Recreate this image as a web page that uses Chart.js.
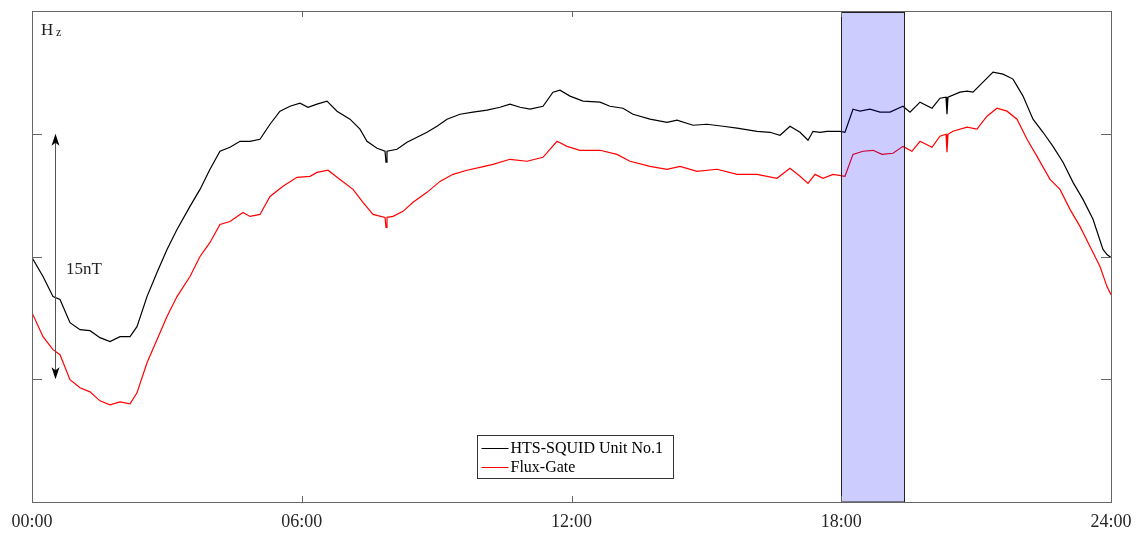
<!DOCTYPE html>
<html>
<head>
<meta charset="utf-8">
<script src="https://cdn.jsdelivr.net/npm/chart.js@4/dist/chart.umd.min.js"></script>
<style>
    html, body { margin: 0; padding: 0; background: #fff; }
    #wrap { width: 1138px; height: 536px; }
</style>
</head>
<body>
<div id="wrap"><canvas id="hzChart" width="1138" height="536"></canvas></div>
<script>
// hours of day / nT (relative)
const squidHours = [0.00, 0.245, 0.467, 0.623, 0.845, 1.068, 1.290, 1.512, 1.735, 1.957, 2.180, 2.335, 2.558, 2.780, 3.003, 3.225, 3.514, 3.737, 3.959, 4.181, 4.404, 4.627, 4.849, 5.071, 5.294, 5.516, 5.739, 5.961, 6.139, 6.339, 6.562, 6.784, 7.073, 7.295, 7.451, 7.674, 7.852, 7.874, 7.896, 8.119, 8.341, 8.564, 8.786, 9.008, 9.231, 9.520, 9.809, 10.121, 10.410, 10.632, 10.855, 11.077, 11.366, 11.588, 11.744, 11.967, 12.256, 12.634, 12.856, 13.145, 13.368, 13.746, 14.124, 14.347, 14.703, 15.014, 15.370, 15.682, 16.126, 16.415, 16.638, 16.860, 17.083, 17.261, 17.372, 17.527, 17.683, 17.972, 18.083, 18.261, 18.417, 18.639, 18.862, 19.084, 19.373, 19.529, 19.752, 20.019, 20.196, 20.330, 20.352, 20.374, 20.641, 20.797, 20.931, 21.153, 21.376, 21.598, 21.821, 22.043, 22.265, 22.488, 22.710, 22.933, 23.155, 23.377, 23.600, 23.822, 23.911, 24.00];
const squidNT = [14.94, 13.78, 12.55, 12.37, 10.96, 10.53, 10.47, 10.04, 9.80, 10.10, 10.10, 10.71, 12.55, 14.02, 15.43, 16.65, 18.06, 19.10, 20.33, 21.43, 21.67, 22.04, 22.04, 22.16, 23.08, 23.88, 24.18, 24.37, 24.12, 24.31, 24.49, 23.88, 23.39, 22.78, 22.04, 21.61, 21.43, 20.76, 21.43, 21.55, 21.98, 22.29, 22.59, 22.96, 23.39, 23.69, 23.82, 23.94, 24.12, 24.31, 24.12, 24.00, 24.18, 25.04, 25.16, 24.80, 24.49, 24.43, 24.18, 24.06, 23.69, 23.39, 23.20, 23.33, 23.02, 23.08, 22.96, 22.84, 22.65, 22.59, 22.41, 22.96, 22.59, 22.10, 22.65, 22.59, 22.65, 22.65, 22.59, 24.00, 23.88, 24.00, 23.82, 23.82, 24.18, 23.82, 24.43, 24.06, 24.67, 24.73, 23.69, 24.73, 25.04, 25.10, 25.04, 25.65, 26.27, 26.14, 25.84, 24.80, 23.39, 22.59, 21.73, 20.76, 19.53, 18.49, 17.27, 15.43, 15.12, 14.94];

const fluxHours = [0.00, 0.245, 0.467, 0.623, 0.845, 1.068, 1.290, 1.512, 1.735, 1.957, 2.180, 2.335, 2.558, 2.780, 3.003, 3.225, 3.514, 3.737, 3.959, 4.181, 4.404, 4.693, 4.849, 5.071, 5.294, 5.583, 5.894, 6.184, 6.339, 6.584, 6.851, 7.140, 7.362, 7.585, 7.852, 7.874, 7.896, 8.030, 8.252, 8.475, 8.786, 9.075, 9.364, 9.675, 9.964, 10.254, 10.632, 11.010, 11.366, 11.678, 11.900, 12.189, 12.634, 13.012, 13.301, 13.746, 14.124, 14.413, 14.791, 15.236, 15.682, 16.126, 16.571, 16.860, 17.083, 17.261, 17.416, 17.594, 17.816, 18.083, 18.261, 18.484, 18.706, 18.906, 19.151, 19.373, 19.573, 19.752, 20.019, 20.196, 20.330, 20.352, 20.374, 20.486, 20.797, 21.019, 21.242, 21.464, 21.687, 21.909, 22.132, 22.354, 22.643, 22.866, 23.088, 23.310, 23.533, 23.755, 23.911, 24.00];
const fluxNT = [11.57, 10.10, 9.31, 9.00, 7.47, 6.98, 6.73, 6.18, 5.94, 6.12, 6.00, 6.67, 8.51, 9.92, 11.33, 12.55, 13.78, 15.00, 15.86, 16.96, 17.14, 17.69, 17.45, 17.57, 18.67, 19.29, 19.84, 19.90, 20.14, 20.27, 19.71, 19.10, 18.31, 17.57, 17.39, 16.78, 17.39, 17.45, 17.76, 18.31, 18.92, 19.59, 20.02, 20.27, 20.45, 20.63, 20.94, 20.82, 21.06, 22.04, 21.73, 21.49, 21.49, 21.24, 20.82, 20.51, 20.33, 20.51, 20.20, 20.33, 20.02, 20.02, 19.78, 20.39, 19.90, 19.47, 20.02, 19.78, 20.02, 19.90, 21.24, 21.43, 21.49, 21.24, 21.31, 21.73, 21.43, 22.04, 21.67, 22.35, 22.47, 21.37, 22.47, 22.65, 22.90, 22.78, 23.57, 24.06, 23.88, 23.39, 22.16, 21.12, 19.71, 19.10, 17.88, 16.84, 15.61, 14.39, 13.16, 12.67];

const timeTicks = [0, 6, 12, 18, 24];
const levelTicks = [7.5, 15, 22.5];
const shadeSpan = [18.0, 19.4];
const arrowSpan = [7.5, 22.5];
const seriesNames = ['HTS-SQUID Unit No.1', 'Flux-Gate'];
const seriesColors = ['#000000', '#ff0000'];

const SERIF = '"Liberation Serif", "Times New Roman", serif';

const toPoints = (xs, ys) => xs.map((x, i) => ({ x, y: ys[i] }));
const hhmm = (h) => String(h).padStart(2, '0') + ':00';

const decor = {
    id: 'hzDecor',
    afterDatasetsDraw(chart) {
        const { ctx, chartArea: area, scales: { x, y } } = chart;
        ctx.save();

        // highlighted interval, drawn over the traces
        const sx0 = Math.round(x.getPixelForValue(shadeSpan[0])) + 0.5;
        const sx1 = Math.round(x.getPixelForValue(shadeSpan[1])) + 0.5;
        ctx.fillStyle = 'rgba(0, 0, 255, 0.2)';
        ctx.fillRect(sx0, area.top + 1, sx1 - sx0, area.bottom - area.top - 1);
        ctx.strokeStyle = '#222';
        ctx.lineWidth = 1;
        ctx.strokeRect(sx0, area.top + 1.5, sx1 - sx0, area.bottom - area.top - 1.5);

        // frame
        ctx.strokeStyle = '#666';
        ctx.strokeRect(area.left + 0.5, area.top + 0.5, area.right - area.left, area.bottom - area.top);

        // inward ticks
        ctx.beginPath();
        levelTicks.forEach((v) => {
            const py = Math.round(y.getPixelForValue(v)) + 0.5;
            ctx.moveTo(area.left, py); ctx.lineTo(area.left + 10, py);
            ctx.moveTo(area.right, py); ctx.lineTo(area.right - 10, py);
        });
        timeTicks.slice(1, -1).forEach((v) => {
            const px = Math.round(x.getPixelForValue(v)) + 0.5;
            ctx.moveTo(px, area.bottom); ctx.lineTo(px, area.bottom - 6);
            ctx.moveTo(px, area.top); ctx.lineTo(px, area.top + 6);
        });
        ctx.stroke();

        // 15nT scale arrow
        const ax = 55.5;
        const ay0 = y.getPixelForValue(arrowSpan[1]);
        const ay1 = y.getPixelForValue(arrowSpan[0]);
        ctx.strokeStyle = '#555';
        ctx.beginPath();
        ctx.moveTo(ax, ay0 + 6); ctx.lineTo(ax, ay1 - 6);
        ctx.stroke();
        ctx.fillStyle = '#000';
        ctx.beginPath();
        ctx.moveTo(ax, ay0); ctx.lineTo(ax - 4, ay0 + 12); ctx.lineTo(ax, ay0 + 9); ctx.lineTo(ax + 4, ay0 + 12); ctx.closePath();
        ctx.moveTo(ax, ay1); ctx.lineTo(ax - 4, ay1 - 12); ctx.lineTo(ax, ay1 - 9); ctx.lineTo(ax + 4, ay1 - 12); ctx.closePath();
        ctx.fill();

        ctx.fillStyle = '#222';
        ctx.textBaseline = 'alphabetic';
        ctx.textAlign = 'left';
        ctx.font = '17px ' + SERIF;
        ctx.fillText('15nT', 66, 274);
        ctx.fillText('H', 41, 35);
        ctx.font = '12px ' + SERIF;
        ctx.fillText('z', 56, 36);

        // legend
        const lx = 477.5, ly = 435.5, lw = 196, lh = 43;
        ctx.fillStyle = '#fff';
        ctx.fillRect(lx, ly, lw, lh);
        ctx.strokeStyle = '#333';
        ctx.strokeRect(lx, ly, lw, lh);
        ctx.font = '16px ' + SERIF;
        seriesNames.forEach((name, i) => {
            const rowY = ly + 12 + i * 19;
            ctx.strokeStyle = seriesColors[i];
            ctx.beginPath();
            ctx.moveTo(lx + 4, Math.round(rowY) + 0.5);
            ctx.lineTo(lx + 31, Math.round(rowY) + 0.5);
            ctx.stroke();
            ctx.fillStyle = '#000';
            ctx.fillText(name, lx + 33, rowY + 5);
        });

        ctx.restore();
    },
};

new Chart(document.getElementById('hzChart'), {
    type: 'line',
    data: {
        datasets: [
            { label: seriesNames[0], data: toPoints(squidHours, squidNT), borderColor: seriesColors[0], borderWidth: 1.2 },
            { label: seriesNames[1], data: toPoints(fluxHours, fluxNT), borderColor: seriesColors[1], borderWidth: 1.2 },
        ],
    },
    options: {
        responsive: false,
        animation: false,
        devicePixelRatio: 1,
        layout: { padding: { left: 32, top: 11, right: 27, bottom: 0 } },
        elements: { point: { radius: 0 }, line: { tension: 0 } },
        plugins: { legend: { display: false }, tooltip: { enabled: false } },
        scales: {
            x: {
                type: 'linear',
                min: 0,
                max: 24,
                afterBuildTicks: (scale) => { scale.ticks = timeTicks.map((value) => ({ value })); },
                afterFit: (scale) => {
                    scale.height = 34;
                    scale.paddingLeft = 0;
                    scale.paddingRight = 0;
                },
                ticks: {
                    callback: (v) => hhmm(v),
                    font: { family: SERIF, size: 18 },
                    color: '#262626',
                    padding: 9,
                    maxRotation: 0,
                    autoSkip: false,
                },
                grid: { display: false, drawTicks: false },
                border: { display: false },
            },
            y: { min: 0, max: 30, display: false },
        },
    },
    plugins: [decor],
});
</script>
</body>
</html>
